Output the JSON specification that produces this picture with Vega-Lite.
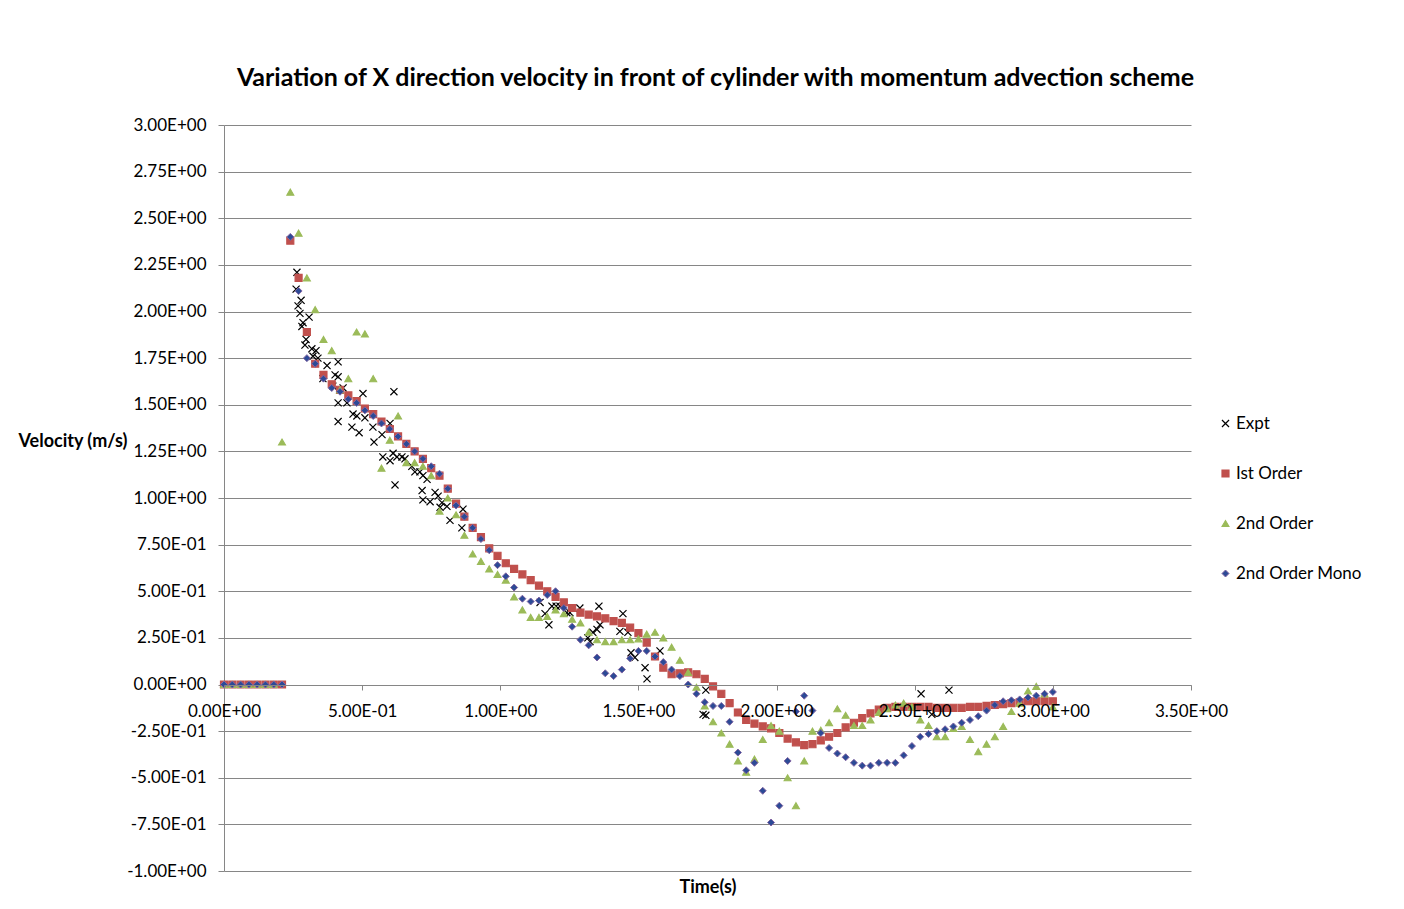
{
"$schema": "https://vega.github.io/schema/vega-lite/v6.json",
"width": 967, "height": 746,
"autosize": {"type": "none"},
"padding": {"left": 224, "top": 125, "right": 213, "bottom": 38},
"background": "white",
"config": {"view": {"stroke": null}, "font": "Lato"},
"title": {"text": "Variation of X direction velocity in front of cylinder with momentum advection scheme", "font": "Lato", "fontSize": 25, "fontWeight": "bold", "color": "#000000", "anchor": "middle", "dx": 8, "offset": 25},
"data": {"values": [
{"s":"Expt","t":0.264,"v":2.21},{"s":"Expt","t":0.261,"v":2.12},{"s":"Expt","t":0.279,"v":2.06},{"s":"Expt","t":0.268,"v":2.03},{"s":"Expt","t":0.275,"v":1.99},{"s":"Expt","t":0.308,"v":1.97},{"s":"Expt","t":0.286,"v":1.94},{"s":"Expt","t":0.282,"v":1.92},{"s":"Expt","t":0.297,"v":1.85},{"s":"Expt","t":0.293,"v":1.82},{"s":"Expt","t":0.318,"v":1.80},{"s":"Expt","t":0.333,"v":1.79},{"s":"Expt","t":0.322,"v":1.76},{"s":"Expt","t":0.340,"v":1.75},{"s":"Expt","t":0.373,"v":1.71},{"s":"Expt","t":0.413,"v":1.73},{"s":"Expt","t":0.402,"v":1.66},{"s":"Expt","t":0.413,"v":1.65},{"s":"Expt","t":0.358,"v":1.64},{"s":"Expt","t":0.394,"v":1.60},{"s":"Expt","t":0.431,"v":1.59},{"s":"Expt","t":0.503,"v":1.56},{"s":"Expt","t":0.615,"v":1.57},{"s":"Expt","t":0.413,"v":1.51},{"s":"Expt","t":0.445,"v":1.51},{"s":"Expt","t":0.467,"v":1.45},{"s":"Expt","t":0.481,"v":1.44},{"s":"Expt","t":0.510,"v":1.43},{"s":"Expt","t":0.413,"v":1.41},{"s":"Expt","t":0.463,"v":1.38},{"s":"Expt","t":0.489,"v":1.35},{"s":"Expt","t":0.539,"v":1.38},{"s":"Expt","t":0.572,"v":1.34},{"s":"Expt","t":0.543,"v":1.30},{"s":"Expt","t":0.601,"v":1.40},{"s":"Expt","t":0.575,"v":1.22},{"s":"Expt","t":0.612,"v":1.24},{"s":"Expt","t":0.626,"v":1.22},{"s":"Expt","t":0.644,"v":1.22},{"s":"Expt","t":0.601,"v":1.20},{"s":"Expt","t":0.619,"v":1.07},{"s":"Expt","t":0.655,"v":1.21},{"s":"Expt","t":0.680,"v":1.17},{"s":"Expt","t":0.691,"v":1.14},{"s":"Expt","t":0.709,"v":1.14},{"s":"Expt","t":0.720,"v":1.12},{"s":"Expt","t":0.735,"v":1.10},{"s":"Expt","t":0.717,"v":1.04},{"s":"Expt","t":0.764,"v":1.03},{"s":"Expt","t":0.775,"v":1.01},{"s":"Expt","t":0.720,"v":0.99},{"s":"Expt","t":0.746,"v":0.98},{"s":"Expt","t":0.789,"v":0.975},{"s":"Expt","t":0.782,"v":0.95},{"s":"Expt","t":0.807,"v":0.955},{"s":"Expt","t":0.818,"v":0.88},{"s":"Expt","t":0.865,"v":0.94},{"s":"Expt","t":0.861,"v":0.84},{"s":"Expt","t":1.144,"v":0.44},{"s":"Expt","t":1.162,"v":0.38},{"s":"Expt","t":1.176,"v":0.32},{"s":"Expt","t":1.187,"v":0.42},{"s":"Expt","t":1.202,"v":0.42},{"s":"Expt","t":1.216,"v":0.42},{"s":"Expt","t":1.241,"v":0.385},{"s":"Expt","t":1.252,"v":0.385},{"s":"Expt","t":1.288,"v":0.41},{"s":"Expt","t":1.357,"v":0.42},{"s":"Expt","t":1.361,"v":0.32},{"s":"Expt","t":1.350,"v":0.295},{"s":"Expt","t":1.335,"v":0.28},{"s":"Expt","t":1.317,"v":0.25},{"s":"Expt","t":1.325,"v":0.23},{"s":"Expt","t":1.444,"v":0.38},{"s":"Expt","t":1.433,"v":0.285},{"s":"Expt","t":1.462,"v":0.28},{"s":"Expt","t":1.473,"v":0.17},{"s":"Expt","t":1.487,"v":0.145},{"s":"Expt","t":1.578,"v":0.18},{"s":"Expt","t":1.524,"v":0.09},{"s":"Expt","t":1.531,"v":0.03},{"s":"Expt","t":1.744,"v":-0.03},{"s":"Expt","t":1.734,"v":-0.16},{"s":"Expt","t":1.744,"v":-0.165},{"s":"Expt","t":2.523,"v":-0.05},{"s":"Expt","t":2.624,"v":-0.03},{"s":"Expt","t":2.562,"v":-0.16},
{"s":"Ist Order","t":0,"v":0},{"s":"Ist Order","t":0.03,"v":0},{"s":"Ist Order","t":0.06,"v":0},{"s":"Ist Order","t":0.09,"v":0},{"s":"Ist Order","t":0.12,"v":0},{"s":"Ist Order","t":0.15,"v":0},{"s":"Ist Order","t":0.18,"v":0},{"s":"Ist Order","t":0.21,"v":0},{"s":"Ist Order","t":0.24,"v":2.38},{"s":"Ist Order","t":0.27,"v":2.18},{"s":"Ist Order","t":0.30,"v":1.89},{"s":"Ist Order","t":0.33,"v":1.72},{"s":"Ist Order","t":0.36,"v":1.66},{"s":"Ist Order","t":0.39,"v":1.61},{"s":"Ist Order","t":0.42,"v":1.58},{"s":"Ist Order","t":0.45,"v":1.55},{"s":"Ist Order","t":0.48,"v":1.52},{"s":"Ist Order","t":0.51,"v":1.48},{"s":"Ist Order","t":0.54,"v":1.45},{"s":"Ist Order","t":0.57,"v":1.41},{"s":"Ist Order","t":0.60,"v":1.37},{"s":"Ist Order","t":0.63,"v":1.33},{"s":"Ist Order","t":0.66,"v":1.29},{"s":"Ist Order","t":0.69,"v":1.25},{"s":"Ist Order","t":0.72,"v":1.21},{"s":"Ist Order","t":0.75,"v":1.16},{"s":"Ist Order","t":0.78,"v":1.12},{"s":"Ist Order","t":0.81,"v":1.05},{"s":"Ist Order","t":0.84,"v":0.97},{"s":"Ist Order","t":0.87,"v":0.90},{"s":"Ist Order","t":0.90,"v":0.84},{"s":"Ist Order","t":0.93,"v":0.79},{"s":"Ist Order","t":0.96,"v":0.73},{"s":"Ist Order","t":0.99,"v":0.69},{"s":"Ist Order","t":1.02,"v":0.65},{"s":"Ist Order","t":1.05,"v":0.62},{"s":"Ist Order","t":1.08,"v":0.59},{"s":"Ist Order","t":1.11,"v":0.56},{"s":"Ist Order","t":1.14,"v":0.53},{"s":"Ist Order","t":1.17,"v":0.50},{"s":"Ist Order","t":1.20,"v":0.47},{"s":"Ist Order","t":1.23,"v":0.44},{"s":"Ist Order","t":1.26,"v":0.41},{"s":"Ist Order","t":1.29,"v":0.385},{"s":"Ist Order","t":1.32,"v":0.375},{"s":"Ist Order","t":1.35,"v":0.365},{"s":"Ist Order","t":1.38,"v":0.355},{"s":"Ist Order","t":1.41,"v":0.34},{"s":"Ist Order","t":1.44,"v":0.33},{"s":"Ist Order","t":1.47,"v":0.305},{"s":"Ist Order","t":1.50,"v":0.275},{"s":"Ist Order","t":1.53,"v":0.225},{"s":"Ist Order","t":1.56,"v":0.15},{"s":"Ist Order","t":1.59,"v":0.09},{"s":"Ist Order","t":1.62,"v":0.055},{"s":"Ist Order","t":1.65,"v":0.06},{"s":"Ist Order","t":1.68,"v":0.065},{"s":"Ist Order","t":1.71,"v":0.055},{"s":"Ist Order","t":1.74,"v":0.03},{"s":"Ist Order","t":1.77,"v":-0.01},{"s":"Ist Order","t":1.80,"v":-0.05},{"s":"Ist Order","t":1.83,"v":-0.10},{"s":"Ist Order","t":1.86,"v":-0.15},{"s":"Ist Order","t":1.89,"v":-0.19},{"s":"Ist Order","t":1.92,"v":-0.21},{"s":"Ist Order","t":1.95,"v":-0.225},{"s":"Ist Order","t":1.98,"v":-0.235},{"s":"Ist Order","t":2.01,"v":-0.26},{"s":"Ist Order","t":2.04,"v":-0.29},{"s":"Ist Order","t":2.07,"v":-0.31},{"s":"Ist Order","t":2.10,"v":-0.325},{"s":"Ist Order","t":2.13,"v":-0.32},{"s":"Ist Order","t":2.16,"v":-0.30},{"s":"Ist Order","t":2.19,"v":-0.28},{"s":"Ist Order","t":2.22,"v":-0.26},{"s":"Ist Order","t":2.25,"v":-0.23},{"s":"Ist Order","t":2.28,"v":-0.205},{"s":"Ist Order","t":2.31,"v":-0.18},{"s":"Ist Order","t":2.34,"v":-0.155},{"s":"Ist Order","t":2.37,"v":-0.135},{"s":"Ist Order","t":2.40,"v":-0.125},{"s":"Ist Order","t":2.43,"v":-0.12},{"s":"Ist Order","t":2.46,"v":-0.12},{"s":"Ist Order","t":2.49,"v":-0.12},{"s":"Ist Order","t":2.52,"v":-0.12},{"s":"Ist Order","t":2.55,"v":-0.12},{"s":"Ist Order","t":2.58,"v":-0.125},{"s":"Ist Order","t":2.61,"v":-0.125},{"s":"Ist Order","t":2.64,"v":-0.125},{"s":"Ist Order","t":2.67,"v":-0.125},{"s":"Ist Order","t":2.70,"v":-0.12},{"s":"Ist Order","t":2.73,"v":-0.12},{"s":"Ist Order","t":2.76,"v":-0.115},{"s":"Ist Order","t":2.79,"v":-0.11},{"s":"Ist Order","t":2.82,"v":-0.105},{"s":"Ist Order","t":2.85,"v":-0.10},{"s":"Ist Order","t":2.88,"v":-0.095},{"s":"Ist Order","t":2.91,"v":-0.09},{"s":"Ist Order","t":2.94,"v":-0.09},{"s":"Ist Order","t":2.97,"v":-0.09},{"s":"Ist Order","t":3.00,"v":-0.09},
{"s":"2nd Order","t":0,"v":0},{"s":"2nd Order","t":0.03,"v":0},{"s":"2nd Order","t":0.06,"v":0},{"s":"2nd Order","t":0.09,"v":0},{"s":"2nd Order","t":0.12,"v":0},{"s":"2nd Order","t":0.15,"v":0},{"s":"2nd Order","t":0.18,"v":0},{"s":"2nd Order","t":0.21,"v":1.30},{"s":"2nd Order","t":0.24,"v":2.64},{"s":"2nd Order","t":0.27,"v":2.42},{"s":"2nd Order","t":0.30,"v":2.18},{"s":"2nd Order","t":0.33,"v":2.01},{"s":"2nd Order","t":0.36,"v":1.85},{"s":"2nd Order","t":0.39,"v":1.79},{"s":"2nd Order","t":0.42,"v":1.58},{"s":"2nd Order","t":0.45,"v":1.64},{"s":"2nd Order","t":0.48,"v":1.89},{"s":"2nd Order","t":0.51,"v":1.88},{"s":"2nd Order","t":0.54,"v":1.64},{"s":"2nd Order","t":0.57,"v":1.16},{"s":"2nd Order","t":0.60,"v":1.31},{"s":"2nd Order","t":0.63,"v":1.44},{"s":"2nd Order","t":0.66,"v":1.19},{"s":"2nd Order","t":0.69,"v":1.19},{"s":"2nd Order","t":0.72,"v":1.17},{"s":"2nd Order","t":0.75,"v":1.12},{"s":"2nd Order","t":0.78,"v":0.93},{"s":"2nd Order","t":0.81,"v":1.00},{"s":"2nd Order","t":0.84,"v":0.91},{"s":"2nd Order","t":0.87,"v":0.80},{"s":"2nd Order","t":0.90,"v":0.70},{"s":"2nd Order","t":0.93,"v":0.66},{"s":"2nd Order","t":0.96,"v":0.62},{"s":"2nd Order","t":0.99,"v":0.59},{"s":"2nd Order","t":1.02,"v":0.56},{"s":"2nd Order","t":1.05,"v":0.47},{"s":"2nd Order","t":1.08,"v":0.40},{"s":"2nd Order","t":1.11,"v":0.36},{"s":"2nd Order","t":1.14,"v":0.36},{"s":"2nd Order","t":1.17,"v":0.365},{"s":"2nd Order","t":1.20,"v":0.40},{"s":"2nd Order","t":1.23,"v":0.38},{"s":"2nd Order","t":1.26,"v":0.35},{"s":"2nd Order","t":1.29,"v":0.33},{"s":"2nd Order","t":1.32,"v":0.28},{"s":"2nd Order","t":1.35,"v":0.24},{"s":"2nd Order","t":1.38,"v":0.23},{"s":"2nd Order","t":1.41,"v":0.23},{"s":"2nd Order","t":1.44,"v":0.24},{"s":"2nd Order","t":1.47,"v":0.24},{"s":"2nd Order","t":1.50,"v":0.245},{"s":"2nd Order","t":1.53,"v":0.27},{"s":"2nd Order","t":1.56,"v":0.28},{"s":"2nd Order","t":1.59,"v":0.25},{"s":"2nd Order","t":1.62,"v":0.20},{"s":"2nd Order","t":1.65,"v":0.13},{"s":"2nd Order","t":1.68,"v":0.065},{"s":"2nd Order","t":1.71,"v":-0.015},{"s":"2nd Order","t":1.74,"v":-0.115},{"s":"2nd Order","t":1.77,"v":-0.20},{"s":"2nd Order","t":1.80,"v":-0.26},{"s":"2nd Order","t":1.83,"v":-0.32},{"s":"2nd Order","t":1.86,"v":-0.41},{"s":"2nd Order","t":1.89,"v":-0.47},{"s":"2nd Order","t":1.92,"v":-0.40},{"s":"2nd Order","t":1.95,"v":-0.295},{"s":"2nd Order","t":1.98,"v":-0.22},{"s":"2nd Order","t":2.01,"v":-0.25},{"s":"2nd Order","t":2.04,"v":-0.50},{"s":"2nd Order","t":2.07,"v":-0.65},{"s":"2nd Order","t":2.10,"v":-0.41},{"s":"2nd Order","t":2.13,"v":-0.25},{"s":"2nd Order","t":2.16,"v":-0.245},{"s":"2nd Order","t":2.19,"v":-0.205},{"s":"2nd Order","t":2.22,"v":-0.13},{"s":"2nd Order","t":2.25,"v":-0.165},{"s":"2nd Order","t":2.28,"v":-0.22},{"s":"2nd Order","t":2.31,"v":-0.22},{"s":"2nd Order","t":2.34,"v":-0.19},{"s":"2nd Order","t":2.37,"v":-0.15},{"s":"2nd Order","t":2.40,"v":-0.13},{"s":"2nd Order","t":2.43,"v":-0.11},{"s":"2nd Order","t":2.46,"v":-0.10},{"s":"2nd Order","t":2.49,"v":-0.12},{"s":"2nd Order","t":2.52,"v":-0.19},{"s":"2nd Order","t":2.55,"v":-0.22},{"s":"2nd Order","t":2.58,"v":-0.28},{"s":"2nd Order","t":2.61,"v":-0.28},{"s":"2nd Order","t":2.64,"v":-0.235},{"s":"2nd Order","t":2.67,"v":-0.225},{"s":"2nd Order","t":2.70,"v":-0.295},{"s":"2nd Order","t":2.73,"v":-0.36},{"s":"2nd Order","t":2.76,"v":-0.32},{"s":"2nd Order","t":2.79,"v":-0.28},{"s":"2nd Order","t":2.82,"v":-0.225},{"s":"2nd Order","t":2.85,"v":-0.145},{"s":"2nd Order","t":2.88,"v":-0.10},{"s":"2nd Order","t":2.91,"v":-0.035},{"s":"2nd Order","t":2.94,"v":-0.01},{"s":"2nd Order","t":2.97,"v":-0.05},{"s":"2nd Order","t":3.00,"v":-0.12},
{"s":"2nd Order Mono","t":0,"v":0},{"s":"2nd Order Mono","t":0.03,"v":0},{"s":"2nd Order Mono","t":0.06,"v":0},{"s":"2nd Order Mono","t":0.09,"v":0},{"s":"2nd Order Mono","t":0.12,"v":0},{"s":"2nd Order Mono","t":0.15,"v":0},{"s":"2nd Order Mono","t":0.18,"v":0},{"s":"2nd Order Mono","t":0.21,"v":0},{"s":"2nd Order Mono","t":0.24,"v":2.40},{"s":"2nd Order Mono","t":0.27,"v":2.11},{"s":"2nd Order Mono","t":0.30,"v":1.75},{"s":"2nd Order Mono","t":0.33,"v":1.72},{"s":"2nd Order Mono","t":0.36,"v":1.64},{"s":"2nd Order Mono","t":0.39,"v":1.59},{"s":"2nd Order Mono","t":0.42,"v":1.57},{"s":"2nd Order Mono","t":0.45,"v":1.53},{"s":"2nd Order Mono","t":0.48,"v":1.51},{"s":"2nd Order Mono","t":0.51,"v":1.47},{"s":"2nd Order Mono","t":0.54,"v":1.44},{"s":"2nd Order Mono","t":0.57,"v":1.40},{"s":"2nd Order Mono","t":0.60,"v":1.37},{"s":"2nd Order Mono","t":0.63,"v":1.33},{"s":"2nd Order Mono","t":0.66,"v":1.29},{"s":"2nd Order Mono","t":0.69,"v":1.25},{"s":"2nd Order Mono","t":0.72,"v":1.21},{"s":"2nd Order Mono","t":0.75,"v":1.17},{"s":"2nd Order Mono","t":0.78,"v":1.13},{"s":"2nd Order Mono","t":0.81,"v":1.05},{"s":"2nd Order Mono","t":0.84,"v":0.96},{"s":"2nd Order Mono","t":0.87,"v":0.90},{"s":"2nd Order Mono","t":0.90,"v":0.84},{"s":"2nd Order Mono","t":0.93,"v":0.78},{"s":"2nd Order Mono","t":0.96,"v":0.72},{"s":"2nd Order Mono","t":0.99,"v":0.64},{"s":"2nd Order Mono","t":1.02,"v":0.58},{"s":"2nd Order Mono","t":1.05,"v":0.52},{"s":"2nd Order Mono","t":1.08,"v":0.46},{"s":"2nd Order Mono","t":1.11,"v":0.445},{"s":"2nd Order Mono","t":1.14,"v":0.45},{"s":"2nd Order Mono","t":1.17,"v":0.48},{"s":"2nd Order Mono","t":1.20,"v":0.50},{"s":"2nd Order Mono","t":1.23,"v":0.41},{"s":"2nd Order Mono","t":1.26,"v":0.31},{"s":"2nd Order Mono","t":1.29,"v":0.24},{"s":"2nd Order Mono","t":1.32,"v":0.21},{"s":"2nd Order Mono","t":1.35,"v":0.145},{"s":"2nd Order Mono","t":1.38,"v":0.06},{"s":"2nd Order Mono","t":1.41,"v":0.045},{"s":"2nd Order Mono","t":1.44,"v":0.08},{"s":"2nd Order Mono","t":1.47,"v":0.14},{"s":"2nd Order Mono","t":1.50,"v":0.18},{"s":"2nd Order Mono","t":1.53,"v":0.18},{"s":"2nd Order Mono","t":1.56,"v":0.15},{"s":"2nd Order Mono","t":1.59,"v":0.12},{"s":"2nd Order Mono","t":1.62,"v":0.08},{"s":"2nd Order Mono","t":1.65,"v":0.045},{"s":"2nd Order Mono","t":1.68,"v":0.0},{"s":"2nd Order Mono","t":1.71,"v":-0.05},{"s":"2nd Order Mono","t":1.74,"v":-0.095},{"s":"2nd Order Mono","t":1.77,"v":-0.115},{"s":"2nd Order Mono","t":1.80,"v":-0.115},{"s":"2nd Order Mono","t":1.83,"v":-0.20},{"s":"2nd Order Mono","t":1.86,"v":-0.365},{"s":"2nd Order Mono","t":1.89,"v":-0.46},{"s":"2nd Order Mono","t":1.92,"v":-0.42},{"s":"2nd Order Mono","t":1.95,"v":-0.57},{"s":"2nd Order Mono","t":1.98,"v":-0.74},{"s":"2nd Order Mono","t":2.01,"v":-0.65},{"s":"2nd Order Mono","t":2.04,"v":-0.41},{"s":"2nd Order Mono","t":2.07,"v":-0.145},{"s":"2nd Order Mono","t":2.10,"v":-0.06},{"s":"2nd Order Mono","t":2.13,"v":-0.14},{"s":"2nd Order Mono","t":2.16,"v":-0.26},{"s":"2nd Order Mono","t":2.19,"v":-0.34},{"s":"2nd Order Mono","t":2.22,"v":-0.37},{"s":"2nd Order Mono","t":2.25,"v":-0.39},{"s":"2nd Order Mono","t":2.28,"v":-0.42},{"s":"2nd Order Mono","t":2.31,"v":-0.435},{"s":"2nd Order Mono","t":2.34,"v":-0.435},{"s":"2nd Order Mono","t":2.37,"v":-0.42},{"s":"2nd Order Mono","t":2.40,"v":-0.42},{"s":"2nd Order Mono","t":2.43,"v":-0.42},{"s":"2nd Order Mono","t":2.46,"v":-0.38},{"s":"2nd Order Mono","t":2.49,"v":-0.33},{"s":"2nd Order Mono","t":2.52,"v":-0.28},{"s":"2nd Order Mono","t":2.55,"v":-0.265},{"s":"2nd Order Mono","t":2.58,"v":-0.25},{"s":"2nd Order Mono","t":2.61,"v":-0.24},{"s":"2nd Order Mono","t":2.64,"v":-0.225},{"s":"2nd Order Mono","t":2.67,"v":-0.205},{"s":"2nd Order Mono","t":2.70,"v":-0.19},{"s":"2nd Order Mono","t":2.73,"v":-0.17},{"s":"2nd Order Mono","t":2.76,"v":-0.14},{"s":"2nd Order Mono","t":2.79,"v":-0.11},{"s":"2nd Order Mono","t":2.82,"v":-0.09},{"s":"2nd Order Mono","t":2.85,"v":-0.085},{"s":"2nd Order Mono","t":2.88,"v":-0.08},{"s":"2nd Order Mono","t":2.91,"v":-0.07},{"s":"2nd Order Mono","t":2.94,"v":-0.06},{"s":"2nd Order Mono","t":2.97,"v":-0.05},{"s":"2nd Order Mono","t":3.00,"v":-0.04}
]},
"mark": {"type": "point", "filled": true, "opacity": 1},
"encoding": {
 "x": {"field": "t", "type": "quantitative", "scale": {"domain": [0, 3.5], "nice": false, "zero": false},
   "axis": {"title": "Time(s)", "values": [0,0.5,1,1.5,2,2.5,3,3.5], "offset": -186, "zindex": 1, "grid": false,
     "domainColor": "#868686", "tickColor": "#868686", "tickSize": 5, "labelPadding": 13, "labelFlush": false, "labelOverlap": false,
     "labelFont": "Lato", "labelFontSize": 17, "labelColor": "#000000",
     "labelExpr": "replace(replace(replace(format(datum.value, '.2e'), 'e+', 'E+0'), 'e-', 'E-0'), '\u2212', '-')",
     "titleFont": "Lato", "titleFontSize": 18, "titleFontWeight": "bold", "titleColor": "#000000", "titleY": 202, "titleBaseline": "middle"}},
 "y": {"field": "v", "type": "quantitative", "scale": {"domain": [-1, 3], "nice": false, "zero": false},
   "axis": {"title": "Velocity (m/s)", "values": [-1,-0.75,-0.5,-0.25,0,0.25,0.5,0.75,1,1.25,1.5,1.75,2,2.25,2.5,2.75,3],
     "grid": true, "gridColor": "#868686", "gridWidth": 1, "domainColor": "#868686", "tickColor": "#868686", "tickSize": 6, "labelPadding": 12,
     "labelFont": "Lato", "labelFontSize": 17, "labelColor": "#000000",
     "labelExpr": "replace(replace(replace(format(datum.value, '.2e'), 'e+', 'E+0'), 'e-', 'E-0'), '\u2212', '-')",
     "titleFont": "Lato", "titleFontSize": 18, "titleFontWeight": "bold", "titleColor": "#000000", "titleAngle": 0, "titleAlign": "left", "titleBaseline": "middle", "titleX": -206, "titleY": 316}},
 "shape": {"field": "s", "type": "nominal", "scale": {"domain": ["Expt", "Ist Order", "2nd Order", "2nd Order Mono"], "range": ["M-1,-1L1,1M-1,1L1,-1", "square", "triangle-up", "diamond"]},
   "legend": {"orient": "none", "legendX": 993, "legendY": 290, "title": null, "labelFont": "Lato", "labelFontSize": 17, "labelColor": "#000000", "rowPadding": 32, "labelOffset": 2}},
 "fill": {"field": "s", "type": "nominal", "scale": {"domain": ["Expt", "Ist Order", "2nd Order", "2nd Order Mono"], "range": ["transparent", "#C0504D", "#9BBB59", "#2C4A96"]}},
 "stroke": {"field": "s", "type": "nominal", "scale": {"domain": ["Expt", "Ist Order", "2nd Order", "2nd Order Mono"], "range": ["#000000", "#C0504D", "#9BBB59", "#8064A2"]}},
 "size": {"field": "s", "type": "nominal", "scale": {"domain": ["Expt", "Ist Order", "2nd Order", "2nd Order Mono"], "range": [50, 49, 45, 68]}},
 "strokeWidth": {"field": "s", "type": "nominal", "scale": {"domain": ["Expt", "Ist Order", "2nd Order", "2nd Order Mono"], "range": [1.2, 1, 0.5, 1.5]}}
}
}
